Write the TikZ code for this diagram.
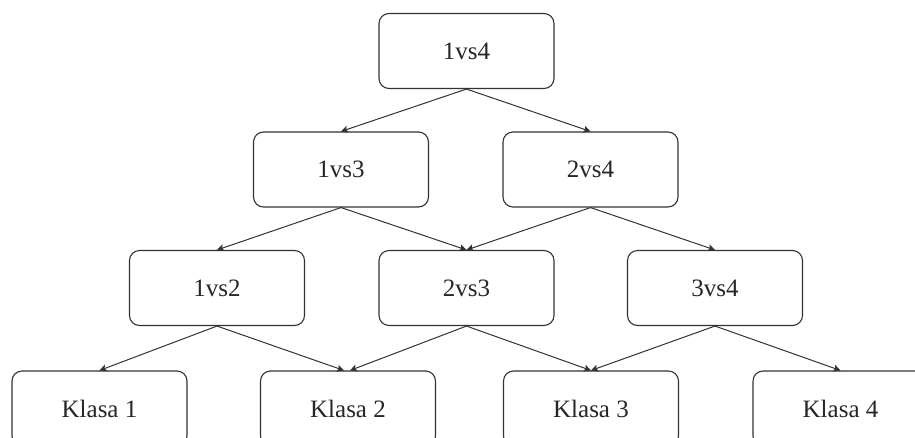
\documentclass[tikz,border=0pt]{standalone}
\usepackage{fontspec}
\setmainfont{Liberation Serif}
\usetikzlibrary{arrows.meta}
\definecolor{edge}{HTML}{333333}
\tikzset{
  cls/.style={draw=edge, line width=1.1pt, rounded corners=10pt,
    minimum width=175pt, minimum height=75pt, inner sep=0pt,
    font=\fontsize{25}{28}\selectfont, text=black!85},
  link/.style={draw=edge, line width=1pt,
    -{Stealth[length=7pt,width=7pt,inset=1.5pt]}}
}
\begin{document}
\begin{tikzpicture}[x=1pt,y=-1pt]
  \useasboundingbox (0,0) rectangle (915,437);
  \clip (0,0) rectangle (915,437);
  % pairwise classifiers
  \node[cls] (a14) at (466.5,51)   {1vs4};
  \node[cls] (a13) at (341,169.5)  {1vs3};
  \node[cls] (a24) at (590.5,169.5){2vs4};
  \node[cls] (a12) at (217,288)    {1vs2};
  \node[cls] (a23) at (466.5,288)  {2vs3};
  \node[cls] (a34) at (715,288)    {3vs4};
  % leaves
  \node[cls] (k1) at (99.5,408.5)  {Klasa 1};
  \node[cls] (k2) at (348,408.5)   {Klasa 2};
  \node[cls] (k3) at (591,408.5)   {Klasa 3};
  \node[cls] (k4) at (840.5,408.5) {Klasa 4};
  % decision edges
  \draw[link] (a14.south) -- (a13.north);
  \draw[link] (a14.south) -- (a24.north);
  \draw[link] (a13.south) -- (a12.north);
  \draw[link] (a13.south) -- (a23.north);
  \draw[link] (a24.south) -- (a23.north);
  \draw[link] (a24.south) -- (a34.north);
  \draw[link] (a12.south) -- (k1.north);
  \draw[link] (a12.south) -- ([xshift=-4pt]k2.north);
  \draw[link] (a23.south) -- ([xshift=2pt]k2.north);
  \draw[link] (a23.south) -- (k3.north);
  \draw[link] (a34.south) -- (k3.north);
  \draw[link] (a34.south) -- (k4.north);
\end{tikzpicture}
\end{document}
